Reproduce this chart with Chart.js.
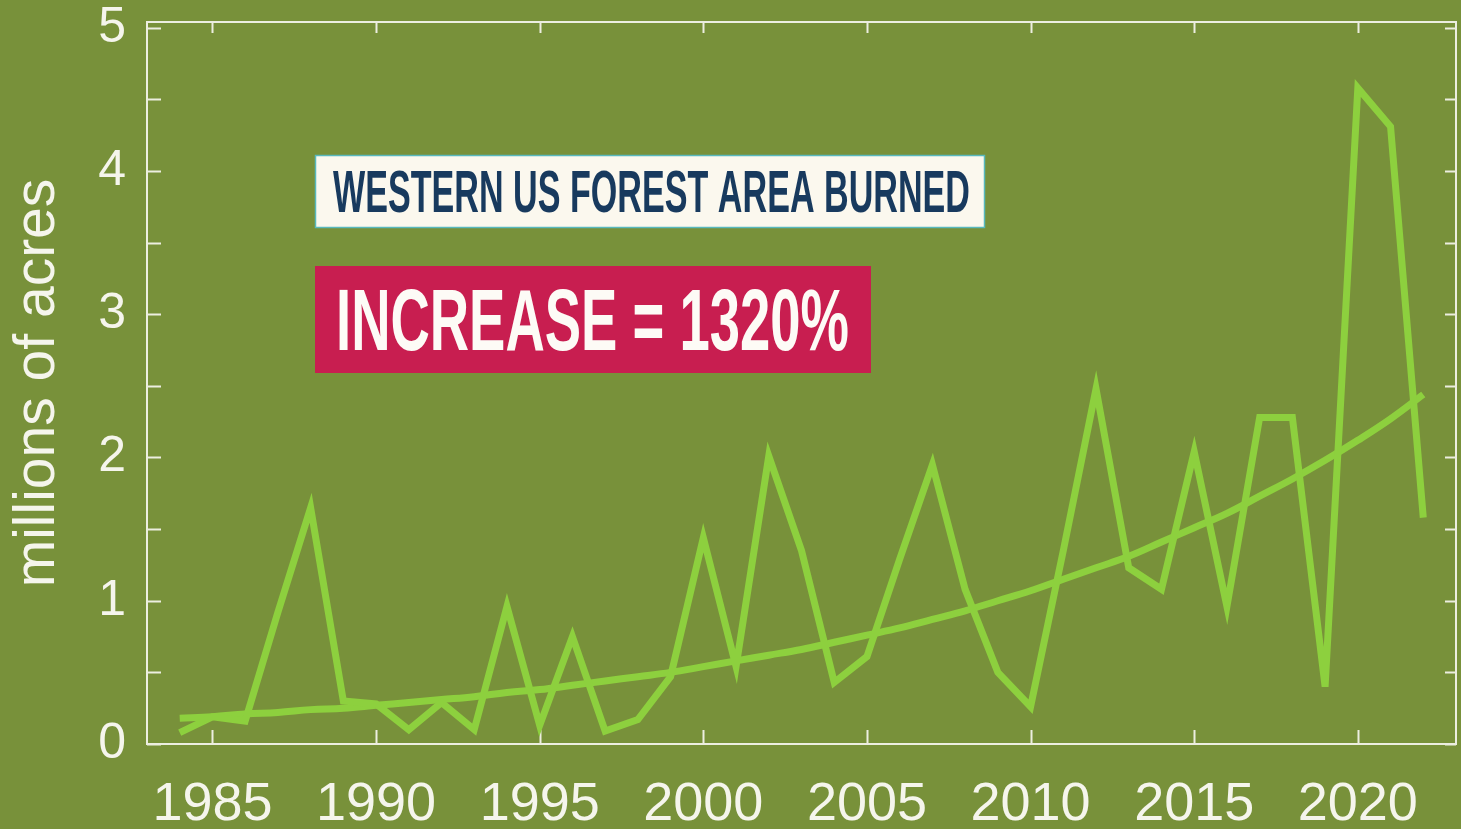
<!DOCTYPE html>
<html><head><meta charset="utf-8">
<script src="https://cdn.jsdelivr.net/npm/chart.js@4.4.1/dist/chart.umd.min.js"></script>
<style>
html,body{margin:0;padding:0;background:#78913a;overflow:hidden}
#wrap{position:relative;width:1461px;height:829px}
canvas{display:block}
</style></head><body>
<div id="wrap"><canvas id="c" width="1461" height="829"></canvas></div>
<script>
const years = [1984,1985,1986,1987,1988,1989,1990,1991,1992,1993,1994,1995,1996,1997,1998,1999,2000,2001,2002,2003,2004,2005,2006,2007,2008,2009,2010,2011,2012,2013,2014,2015,2016,2017,2018,2019,2020,2021,2022];
const burned = [0.08,0.19,0.16,0.92,1.65,0.30,0.28,0.10,0.29,0.10,0.96,0.13,0.75,0.09,0.17,0.47,1.44,0.54,2.01,1.35,0.43,0.61,1.29,1.95,1.08,0.50,0.26,1.35,2.48,1.23,1.08,2.04,0.96,2.28,2.28,0.40,4.58,4.31,1.58];
const trend = [0.18,0.19,0.21,0.22,0.24,0.25,0.27,0.29,0.31,0.33,0.36,0.38,0.41,0.44,0.47,0.50,0.54,0.58,0.62,0.66,0.71,0.76,0.81,0.87,0.93,1.00,1.07,1.15,1.23,1.31,1.41,1.51,1.61,1.73,1.85,1.98,2.12,2.27,2.44];
const xTickYears = [1985,1990,1995,2000,2005,2010,2015,2020];
const yTickValues = [0,0.5,1,1.5,2,2.5,3,3.5,4,4.5,5];
const yAxisTitle = 'millions of acres';
const headline = 'WESTERN US FOREST AREA BURNED';
const increaseText = 'INCREASE = 1320%';

const LINE = '#8dd03e';
const AXIS = '#eceee0';
const LABEL = '#f5f5ec';

function pts(vals){ return years.map((y,i)=>({x:y,y:vals[i]})); }

function fitText(ctx, text, x, baseline, width, size, color){
  ctx.save();
  ctx.font = 'bold ' + size + 'px "Liberation Sans Narrow","Liberation Sans",Arial,sans-serif';
  const w = ctx.measureText(text).width;
  ctx.translate(x, baseline);
  ctx.scale(width / w, 1);
  ctx.fillStyle = color;
  ctx.textBaseline = 'alphabetic';
  ctx.textAlign = 'left';
  ctx.fillText(text, 0, 0);
  ctx.restore();
}

const framePlugin = {
  id: 'frame',
  beforeDatasetsDraw(chart){
    const {ctx, chartArea:a, scales:{x, y}} = chart;
    ctx.save();
    ctx.strokeStyle = AXIS;
    ctx.lineWidth = 2;
    ctx.strokeRect(a.left, a.top, a.right - a.left, a.bottom - a.top);
    ctx.beginPath();
    yTickValues.forEach(v => {
      const py = Math.round(y.getPixelForValue(v)) + 0.5;
      ctx.moveTo(a.left, py); ctx.lineTo(a.left + 14, py);
      ctx.moveTo(a.right - 11, py); ctx.lineTo(a.right, py);
    });
    xTickYears.forEach(v => {
      const px = Math.round(x.getPixelForValue(v)) + 0.5;
      ctx.moveTo(px, a.bottom); ctx.lineTo(px, a.bottom - 14);
      ctx.moveTo(px, a.top); ctx.lineTo(px, a.top + 11);
    });
    ctx.stroke();
    ctx.restore();
  },
  afterDraw(chart){
    const ctx = chart.ctx;
    ctx.save();
    ctx.fillStyle = '#fbf8ee';
    ctx.fillRect(315, 155, 670, 73);
    ctx.strokeStyle = '#58b9bd';
    ctx.lineWidth = 1.5;
    ctx.strokeRect(315.5, 155.5, 669, 72);
    fitText(ctx, headline, 333, 212, 637, 60, '#183a5e');
    ctx.fillStyle = '#c81e50';
    ctx.fillRect(315, 266, 556, 107);
    fitText(ctx, increaseText, 336, 350, 513, 87, '#fdfbf6');
    ctx.restore();
  }
};

new Chart(document.getElementById('c'), {
  type: 'line',
  data: {
    datasets: [
      {label:'Area burned', data: pts(burned), borderColor: LINE, borderWidth: 7, pointRadius: 0, tension: 0, fill: false, borderJoinStyle: 'miter', borderCapStyle: 'butt'},
      {label:'Trend', data: pts(trend), borderColor: LINE, borderWidth: 7, pointRadius: 0, tension: 0.4, fill: false}
    ]
  },
  options: {
    responsive: false,
    devicePixelRatio: 1,
    animation: false,
    layout: {padding: {left: 0, right: 5, top: 22, bottom: 0}},
    plugins: {legend: {display: false}, tooltip: {enabled: false}},
    scales: {
      x: {
        type: 'linear', min: 1983, max: 2023,
        afterBuildTicks: s => { s.ticks = xTickYears.map(v => ({value: v})); },
        afterFit: s => { s.height = 85; },
        grid: {display: false, drawTicks: false},
        border: {display: false},
        ticks: {
          autoSkip: false, maxRotation: 0, padding: 34,
          color: LABEL,
          font: {family: '"Liberation Sans", Arial, sans-serif', size: 54, lineHeight: 1},
          callback: v => String(v)
        }
      },
      y: {
        type: 'linear', min: 0, max: 5.04,
        afterBuildTicks: s => { s.ticks = yTickValues.map(v => ({value: v})); },
        afterFit: s => { s.width = 147; },
        grid: {display: false, drawTicks: false},
        border: {display: false},
        ticks: {
          autoSkip: false, padding: 21,
          color: LABEL,
          font: {family: '"Liberation Sans", Arial, sans-serif', size: 50, lineHeight: 0.02},
          callback: v => Number.isInteger(v) ? String(v) : ''
        },
        title: {
          display: true, text: yAxisTitle, color: LABEL,
          font: {family: '"Liberation Sans", Arial, sans-serif', size: 57, lineHeight: 1.2},
          padding: {top: 4, bottom: 0}
        }
      }
    }
  },
  plugins: [framePlugin]
});
</script>
</body></html>
